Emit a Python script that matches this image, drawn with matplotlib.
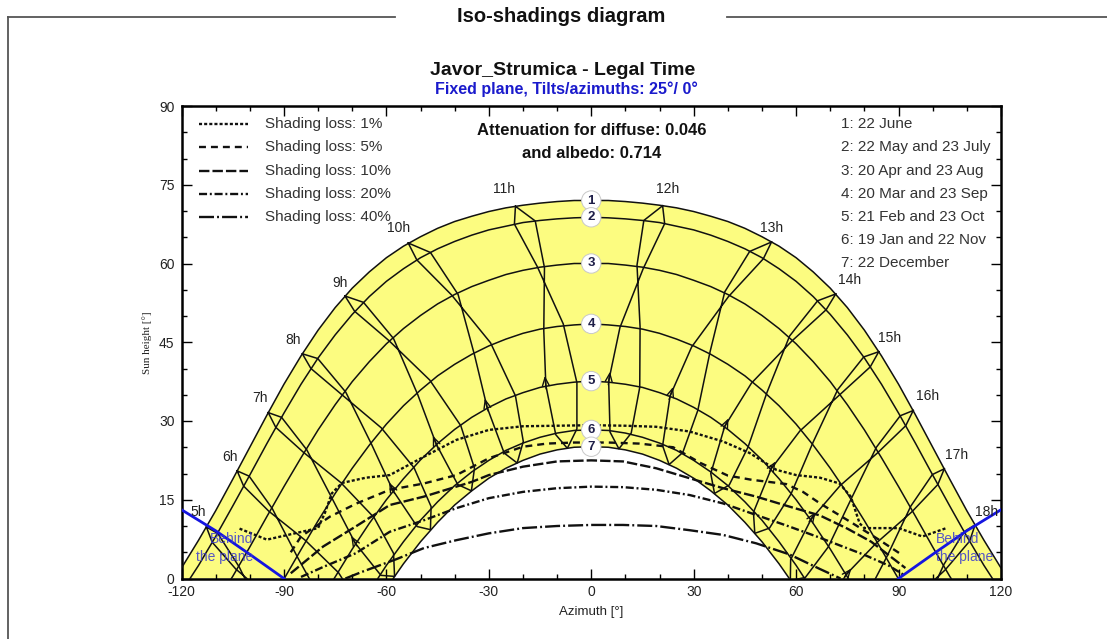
import numpy as np
import matplotlib
matplotlib.use('Agg')
import matplotlib.pyplot as plt
from matplotlib.lines import Line2D

plt.rcParams['font.family'] = ['Liberation Sans', 'DejaVu Sans']
plt.rcParams['lines.scale_dashes'] = False
plt.rcParams['axes.unicode_minus'] = False

# ---------------- data ----------------
# Date (sun path) curves: azimuth [deg] and sun height [deg]
D1_AZ = [-122.1, -120, -115, -110, -105, -100, -95, -90, -85, -80, -75, -70, -65, -60, -55, -50, -45, -40, -35, -30, -25, -20, -15, -10, -5,
         0, 5, 10, 15, 20, 25, 30, 35, 40, 45, 50, 55, 60, 65, 70, 75, 80, 85, 90, 95, 100, 105, 110, 115, 120, 122.1]
D1_H = [0, 2.0, 7.3, 12.9, 18.9, 25.0, 31.1, 37.0, 42.4, 47.3, 51.6, 55.3, 58.4, 61.1, 63.3, 65.1, 66.7, 68.0, 69.0, 69.9, 70.6, 71.1, 71.5, 71.8, 72.0,
        72.0, 72.0, 71.8, 71.5, 71.1, 70.6, 69.9, 69.0, 68.0, 66.7, 65.1, 63.3, 61.1, 58.4, 55.3, 51.6, 47.3, 42.4, 37.0, 31.1, 25.0, 18.9, 12.9, 7.3, 2.0, 0]
D2_AZ = [-117.5, -115, -110, -105, -100, -95, -90, -85, -80, -75, -70, -65, -60, -55, -50, -45, -40, -35, -30, -25, -20, -15, -10, -5,
         0, 5, 10, 15, 20, 25, 30, 35, 40, 45, 50, 55, 60, 65, 70, 75, 80, 85, 90, 95, 100, 105, 110, 115, 117.5]
D2_H = [0, 2.5, 8.0, 13.8, 19.7, 25.7, 31.5, 37.0, 42.0, 46.4, 50.3, 53.7, 56.6, 59.0, 61.1, 62.8, 64.2, 65.4, 66.4, 67.1, 67.8, 68.2, 68.5, 68.7,
        68.8, 68.7, 68.5, 68.2, 67.8, 67.1, 66.4, 65.4, 64.2, 62.8, 61.1, 59.0, 56.6, 53.7, 50.3, 46.4, 42.0, 37.0, 31.5, 25.7, 19.7, 13.8, 8.0, 2.5, 0]
D3_AZ = [-105.4, -105, -100, -95, -90, -85, -80, -75, -70, -65, -60, -55, -50, -45, -40, -35, -30, -25, -20, -15, -10, -5,
         0, 5, 10, 15, 20, 25, 30, 35, 40, 45, 50, 55, 60, 65, 70, 75, 80, 85, 90, 95, 100, 105, 105.4]
D3_H = [0, 0.4, 6.0, 11.8, 17.5, 23.0, 28.3, 33.1, 37.5, 41.3, 44.7, 47.6, 50.1, 52.3, 54.1, 55.6, 56.8, 57.9, 58.7, 59.3, 59.7, 60.0,
        60.0, 60.0, 59.7, 59.3, 58.7, 57.9, 56.8, 55.6, 54.1, 52.3, 50.1, 47.6, 44.7, 41.3, 37.5, 33.1, 28.3, 23.0, 17.5, 11.8, 6.0, 0.4, 0]
D4_AZ = [-89.9, -85, -80, -75, -70, -65, -60, -55, -50, -45, -40, -35, -30, -25, -20, -15, -10, -5,
         0, 5, 10, 15, 20, 25, 30, 35, 40, 45, 50, 55, 60, 65, 70, 75, 80, 85, 89.9]
D4_H = [0, 5.5, 11.0, 16.2, 21.0, 25.4, 29.4, 32.9, 35.9, 38.6, 40.8, 42.7, 44.3, 45.6, 46.7, 47.5, 48.0, 48.3,
        48.5, 48.3, 48.0, 47.5, 46.7, 45.6, 44.3, 42.7, 40.8, 38.6, 35.9, 32.9, 29.4, 25.4, 21.0, 16.2, 11.0, 5.5, 0]
D5_AZ = [-75.3, -75, -70, -65, -60, -55, -50, -45, -40, -35, -30, -25, -20, -15, -10, -5,
         0, 5, 10, 15, 20, 25, 30, 35, 40, 45, 50, 55, 60, 65, 70, 75, 75.3]
D5_H = [0, 0.3, 5.6, 10.5, 15.0, 19.0, 22.6, 25.7, 28.4, 30.7, 32.6, 34.2, 35.4, 36.4, 37.0, 37.4,
        37.6, 37.4, 37.0, 36.4, 35.4, 34.2, 32.6, 30.7, 28.4, 25.7, 22.6, 19.0, 15.0, 10.5, 5.6, 0.3, 0]
D6_AZ = [-62.5, -60, -55, -50, -45, -40, -35, -30, -25, -20, -15, -10, -5,
         0, 5, 10, 15, 20, 25, 30, 35, 40, 45, 50, 55, 60, 62.5]
D6_H = [0, 2.5, 7.0, 11.1, 14.6, 17.7, 20.3, 22.5, 24.4, 25.8, 26.9, 27.7, 28.2,
        28.3, 28.2, 27.7, 26.9, 25.8, 24.4, 22.5, 20.3, 17.7, 14.6, 11.1, 7.0, 2.5, 0]
D7_AZ = [-58.0, -55, -50, -45, -40, -35, -30, -25, -20, -15, -10, -5,
         0, 5, 10, 15, 20, 25, 30, 35, 40, 45, 50, 55, 58.0]
D7_H = [0, 2.8, 7.0, 10.7, 14.0, 16.7, 19.1, 21.0, 22.5, 23.7, 24.5, 25.0,
        25.1, 25.0, 24.5, 23.7, 22.5, 21.0, 19.1, 16.7, 14.0, 10.7, 7.0, 2.8, 0]
DATE_AZ = [D1_AZ, D2_AZ, D3_AZ, D4_AZ, D5_AZ, D6_AZ, D7_AZ]
DATE_H = [D1_H, D2_H, D3_H, D4_H, D5_H, D6_H, D7_H]
DATE_NAMES = ['1', '2', '3', '4', '5', '6', '7']
DATE_NOON_H = [72.0, 68.8, 60.0, 48.5, 37.6, 28.3, 25.1]
DATE_LABELS = ['1: 22 June', '2: 22 May and 23 July', '3: 20 Apr and 23 Aug', '4: 20 Mar and 23 Sep',
               '5: 21 Feb and 23 Oct', '6: 19 Jan and 22 Nov', '7: 22 December']

# Hour lines (legal time) through the year:
# Jun22, Jul23, Aug23, Sep23, Oct23, Nov22, Dec22, Jan19, Feb21, Mar20, Apr20, May22, Jun22
HOUR_NAMES = ['5h', '6h', '7h', '8h', '9h', '10h', '11h', '12h', '13h', '14h', '15h', '16h', '17h', '18h']
H5_AZ = [-112.7, -111.0, -104.1, -93.8, -83.8, -77.2, -76.1, -80.4, -88.9, -95.9, -103.1, -109.4, -112.7]
H5_H = [9.8, 6.9, 1.8, -3.9, -9.9, -16.0, -20.3, -20.6, -15.3, -7.3, 2.2, 8.6, 9.8]
H6_AZ = [-103.7, -101.8, -94.4, -83.8, -74.0, -67.9, -67.1, -71.2, -79.1, -85.9, -93.4, -100.2, -103.7]
H6_H = [20.5, 17.6, 12.8, 7.3, 1.1, -5.2, -9.6, -9.7, -4.1, 3.9, 13.3, 19.5, 20.5]
H7_AZ = [-94.6, -92.4, -84.4, -73.4, -63.6, -57.9, -57.6, -61.6, -69.1, -75.7, -83.3, -90.7, -94.6]
H7_H = [31.6, 28.8, 24.1, 18.3, 11.6, 4.8, 0.4, 0.6, 6.7, 15.0, 24.5, 30.7, 31.6]
H8_AZ = [-84.6, -82.1, -73.2, -61.5, -51.9, -46.9, -47.1, -51.0, -58.1, -64.3, -71.9, -80.1, -84.6]
H8_H = [42.8, 40.0, 35.1, 28.7, 21.1, 13.7, 9.3, 9.9, 16.8, 25.5, 35.5, 41.9, 42.8]
H9_AZ = [-72.1, -69.3, -59.4, -47.3, -38.2, -34.2, -35.1, -39.1, -45.4, -50.8, -57.9, -66.7, -72.1]
H9_H = [53.8, 50.9, 45.4, 37.8, 29.1, 21.0, 16.7, 17.9, 25.6, 35.0, 45.7, 52.6, 53.8]
H10_AZ = [-53.6, -51.1, -40.9, -29.5, -22.2, -19.9, -21.7, -25.5, -30.5, -34.2, -39.0, -47.1, -53.6]
H10_H = [63.9, 60.7, 54.0, 44.9, 34.8, 26.1, 22.0, 23.9, 32.6, 42.6, 54.1, 62.1, 63.9]
H11_AZ = [-22.2, -22.5, -15.8, -8.2, -4.2, -4.2, -7.0, -10.4, -13.3, -13.9, -13.7, -16.4, -22.2]
H11_H = [70.9, 67.5, 59.4, 48.5, 37.3, 28.5, 24.8, 27.4, 36.8, 47.2, 59.2, 68.1, 70.9]
H12_AZ = [20.9, 15.4, 13.4, 14.3, 14.2, 11.7, 8.1, 5.5, 5.1, 8.4, 15.2, 21.5, 20.9]
H12_H = [71.0, 68.2, 59.7, 47.9, 36.4, 27.7, 24.7, 27.9, 37.6, 47.8, 59.0, 67.6, 71.0]
H13_AZ = [52.8, 46.4, 39.1, 34.8, 31.2, 26.8, 22.8, 20.9, 23.1, 29.4, 40.2, 50.4, 52.8]
H13_H = [64.1, 62.3, 54.6, 43.2, 32.0, 24.0, 21.7, 25.3, 34.8, 44.1, 53.7, 60.9, 64.1]
H14_AZ = [71.6, 66.3, 58.1, 51.5, 45.9, 40.4, 36.1, 35.0, 39.1, 46.9, 58.7, 68.8, 71.6]
H14_H = [54.2, 52.9, 46.2, 35.5, 25.0, 17.8, 16.2, 20.0, 29.0, 37.2, 45.2, 51.2, 54.2]
H15_AZ = [84.2, 79.8, 72.2, 65.0, 58.5, 52.2, 47.9, 47.5, 52.7, 61.1, 72.6, 81.7, 84.2]
H15_H = [43.2, 42.2, 36.0, 26.0, 16.1, 9.6, 8.6, 12.6, 20.9, 28.1, 34.9, 40.3, 43.2]
H16_AZ = [94.3, 90.5, 83.5, 76.3, 69.4, 62.7, 58.3, 58.4, 64.4, 72.9, 83.8, 92.1, 94.3]
H16_H = [32.0, 31.0, 25.0, 15.4, 6.0, 0.2, -0.4, 3.6, 11.3, 17.7, 23.9, 29.1, 32.0]
H17_AZ = [103.4, 99.9, 93.6, 86.6, 79.4, 72.3, 67.8, 68.2, 74.7, 83.4, 93.9, 101.5, 103.4]
H17_H = [20.9, 19.8, 13.8, 4.2, -4.8, -10.2, -10.4, -6.4, 0.8, 6.7, 12.7, 17.9, 20.9]
H18_AZ = [112.4, 109.2, 103.3, 96.5, 89.1, 81.5, 76.8, 77.5, 84.5, 93.4, 103.6, 110.8, 112.4]
H18_H = [10.2, 8.9, 2.7, -7.0, -16.0, -21.2, -21.1, -17.1, -10.2, -4.5, 1.6, 7.1, 10.2]
HOUR_AZ = [H5_AZ, H6_AZ, H7_AZ, H8_AZ, H9_AZ, H10_AZ, H11_AZ, H12_AZ, H13_AZ, H14_AZ, H15_AZ, H16_AZ, H17_AZ, H18_AZ]
HOUR_H = [H5_H, H6_H, H7_H, H8_H, H9_H, H10_H, H11_H, H12_H, H13_H, H14_H, H15_H, H16_H, H17_H, H18_H]

# Direction arrows on the hour lines (7h .. 17h), tail -> tip
ARROW_TAIL_AZ = [-68.6, -57.6, -45.0, -30.2, -13.2, 5.0, 22.8, 38.7, 52.2, 63.8, 74.2]
ARROW_TAIL_H = [6.2, 16.2, 25.0, 31.9, 36.1, 36.9, 34.1, 28.4, 20.4, 10.8, 0.3]
ARROW_TIP_AZ = [-70.3, -59.2, -46.4, -31.2, -13.6, 5.5, 24.0, 40.2, 54.0, 65.7, 76.2]
ARROW_TIP_H = [8.1, 18.3, 27.2, 34.3, 38.6, 39.4, 36.5, 30.5, 22.3, 12.6, 1.9]

# Iso-shading curves
LOSS_LABELS = ['Shading loss: 1%', 'Shading loss: 5%', 'Shading loss: 10%', 'Shading loss: 20%', 'Shading loss: 40%']
L1_AZ = [-103, -95, -80, -78, -76, -73, -66, -59, -49, -39.5, -30, -20, -10, 0, 10, 19, 28.8, 38.6, 46.4, 54.2, 60, 67, 72.7, 76, 78.6, 80, 90, 97, 104]
L1_H = [9.5, 7.4, 9.6, 12.5, 16.2, 18.2, 19.2, 19.7, 23.2, 26.4, 28.3, 29.0, 29.1, 29.2, 29.1, 28.9, 28.0, 26.1, 23.9, 20.7, 19.7, 19.2, 18.1, 15.6, 10.5, 9.6, 9.6, 8.0, 9.6]
L5_AZ = [-88, -85, -76.5, -68.7, -59, -49, -39.5, -30, -20, -13, -5, 5, 14, 24, 32, 40, 47, 57, 62, 67, 76.6, 84, 91]
L5_H = [5.0, 8.0, 11.8, 14.3, 16.9, 18.1, 19.7, 22.9, 25.1, 25.7, 25.9, 25.9, 25.7, 25.0, 22.0, 19.6, 18.8, 18.0, 16.5, 14.3, 10.5, 7.5, 4.5]
L10_AZ = [-88, -78.5, -69, -59, -49, -35, -30, -20, -10, 0, 9.3, 19, 28.8, 38.6, 48.3, 58, 67, 75, 82, 88, 92]
L10_H = [1.0, 6.1, 9.9, 14.0, 15.6, 18.4, 19.7, 21.3, 22.3, 22.5, 22.3, 21.0, 19.1, 17.2, 15.6, 13.7, 12.0, 9.5, 7.0, 4.0, 2.0]
L20_AZ = [-85, -78.5, -69, -59, -49, -39.5, -30, -20, -10, 0, 9.3, 19, 28.8, 38.6, 48.3, 58, 66, 72, 80, 87, 92]
L20_H = [0.3, 2.2, 4.8, 8.9, 11.1, 13.4, 15.3, 16.5, 17.2, 17.5, 17.4, 16.9, 15.9, 14.3, 12.1, 9.9, 8.0, 6.5, 4.5, 2.5, 0.5]
L40_AZ = [-72, -67, -57, -49, -39.5, -30, -20, -10, 0, 9.3, 19, 28.8, 38.6, 48.3, 58, 67, 73]
L40_H = [0.0, 1.3, 3.7, 5.8, 7.3, 8.6, 9.6, 10.0, 10.2, 10.2, 10.0, 9.2, 8.3, 6.7, 4.6, 1.8, 0.0]
LOSS_AZ = [L1_AZ, L5_AZ, L10_AZ, L20_AZ, L40_AZ]
LOSS_H = [L1_H, L5_H, L10_H, L20_H, L40_H]

# "Behind the plane" limits
BEHIND_L_AZ = [-120, -110, -100, -90]
BEHIND_L_H = [13.1, 9.1, 4.6, 0.0]
BEHIND_R_AZ = [90, 100, 110, 120]
BEHIND_R_H = [0.0, 4.6, 9.1, 13.1]

# ---------------- styles / layout ----------------
LOSS_DASHES = [(2.2, 1.5), (5, 3.6), (7.5, 2.2), (5.8, 2, 1.4, 2), (10.8, 2.2, 1.4, 2.2)]
HOUR_LABEL_DX = [-8, -7, -8, -9, -5, -10, -11, 5, 0, 14, 11, 14, 12, 12]
HOUR_LABEL_DY = [15, 14, 15, 14, 13, 15, 17, 17, 14, 14, 14, 14, 14, 13]
YELLOW = '#fcfc80'
W, HP = 1107, 639

fig = plt.figure(figsize=(W/100, HP/100), dpi=100)
def fx(px): return px/W
def fy(py): return 1-py/HP
ax = fig.add_axes([fx(181.5), fy(578.5), (1001-181.5)/W, (578.5-106)/HP])
ax.set_xlim(-120, 120); ax.set_ylim(0, 90)

ax.fill(np.r_[D1_AZ, D7_AZ[::-1]], np.r_[D1_H, D7_H[::-1]], color=YELLOW, lw=0, zorder=1)
for a, h in zip(DATE_AZ, DATE_H):
    ax.plot(a, h, color='#111', lw=1.1, zorder=3)
for a, h in zip(HOUR_AZ, HOUR_H):
    ax.plot(a, h, color='#111', lw=1.1, zorder=3)
for ta, th, pa, ph in zip(ARROW_TAIL_AZ, ARROW_TAIL_H, ARROW_TIP_AZ, ARROW_TIP_H):
    ax.annotate('', xy=(pa, ph), xytext=(ta, th),
                arrowprops=dict(arrowstyle='->,head_length=0.6,head_width=0.25', lw=1.0, color='#111',
                                shrinkA=0, shrinkB=0), zorder=4)
for a, h, ds in zip(LOSS_AZ, LOSS_H, LOSS_DASHES):
    ax.plot(a, h, color='#111', lw=1.7, dashes=ds, zorder=5)
ax.plot(BEHIND_L_AZ, BEHIND_L_H, color='#1515e0', lw=2, zorder=6)
ax.plot(BEHIND_R_AZ, BEHIND_R_H, color='#1515e0', lw=2, zorder=6)
bcol = '#3a3ad0'
ax.text(-99, 7.5, 'Behind', color=bcol, fontsize=10, ha='right', va='center', zorder=7, alpha=0.85)
ax.text(-99, 4.0, 'the plane', color=bcol, fontsize=10, ha='right', va='center', zorder=7, alpha=0.85)
ax.text(101, 7.5, 'Behind', color=bcol, fontsize=10, ha='left', va='center', zorder=7, alpha=0.85)
ax.text(101, 4.0, 'the plane', color=bcol, fontsize=10, ha='left', va='center', zorder=7, alpha=0.85)

for name, h0 in zip(DATE_NAMES, DATE_NOON_H):
    ax.text(0, h0, name, ha='center', va='center', fontsize=9.5, fontweight='bold', color='#1e1e48',
            bbox=dict(boxstyle='circle,pad=0.28', fc='white', ec='#c8c8c8', lw=0.7), zorder=8)
for name, a, h, dx, dy in zip(HOUR_NAMES, HOUR_AZ, HOUR_H, HOUR_LABEL_DX, HOUR_LABEL_DY):
    ax.annotate(name, xy=(a[0], h[0]), xytext=(dx, dy), textcoords='offset pixels', ha='center', va='center',
                fontsize=10, color='#222', zorder=8)

ax.set_xticks(range(-120, 121, 30)); ax.set_xticks(range(-120, 121, 10), minor=True)
ax.set_yticks(range(0, 91, 15)); ax.set_yticks(range(0, 91, 5), minor=True)
ax.tick_params(which='both', direction='in', top=True, right=True, labelsize=10, labelcolor='#222', width=1)
ax.tick_params(which='major', length=7, pad=5)
ax.tick_params(which='minor', length=3.5)
for s in ax.spines.values():
    s.set_linewidth(1.8)
fig.text(fx(591.5), fy(612), 'Azimuth [°]', ha='center', va='center', fontsize=9.5, color='#222')
fig.text(fx(147), fy(343), 'Sun height [°]', ha='center', va='center', rotation=90, fontsize=8,
         family=['Liberation Serif', 'DejaVu Serif'], color='#222')

legend_y = [124, 147.3, 170.7, 194, 217.3]
for y, lab, ds in zip(legend_y, LOSS_LABELS, LOSS_DASHES):
    fig.add_artist(Line2D([fx(199), fx(248)], [fy(y), fy(y)], color='#111', lw=1.7, dashes=ds))
    fig.text(fx(265), fy(y), lab, ha='left', va='center', fontsize=11, color='#333')
for i, lab in enumerate(DATE_LABELS):
    fig.text(fx(841), fy(124.3 + i*23.17), lab, ha='left', va='center', fontsize=11, color='#333')

fig.text(fx(592), fy(130), 'Attenuation for diffuse: 0.046', ha='center', va='center', fontsize=12, fontweight='bold', color='#111')
fig.text(fx(592), fy(153), 'and albedo: 0.714', ha='center', va='center', fontsize=12, fontweight='bold', color='#111')
fig.text(fx(563), fy(70.5), 'Javor_Strumica - Legal Time', ha='center', va='center', fontsize=14, fontweight='bold', color='#111')
fig.text(fx(566), fy(89.5), 'Fixed plane, Tilts/azimuths: 25°/ 0°', ha='center', va='center', fontsize=11.5, fontweight='bold', color='#1a1acc')
fig.text(fx(561), fy(17), 'Iso-shadings diagram', ha='center', va='center', fontsize=14.5, fontweight='bold', color='#111')
fig.add_artist(Line2D([fx(8), fx(8)], [0, fy(17)], color='#555', lw=1.3))
fig.add_artist(Line2D([fx(8), fx(395)], [fy(17), fy(17)], color='#555', lw=1.3))
fig.add_artist(Line2D([fx(727), 1], [fy(17), fy(17)], color='#555', lw=1.3))

fig.savefig('out.png', dpi=100)
